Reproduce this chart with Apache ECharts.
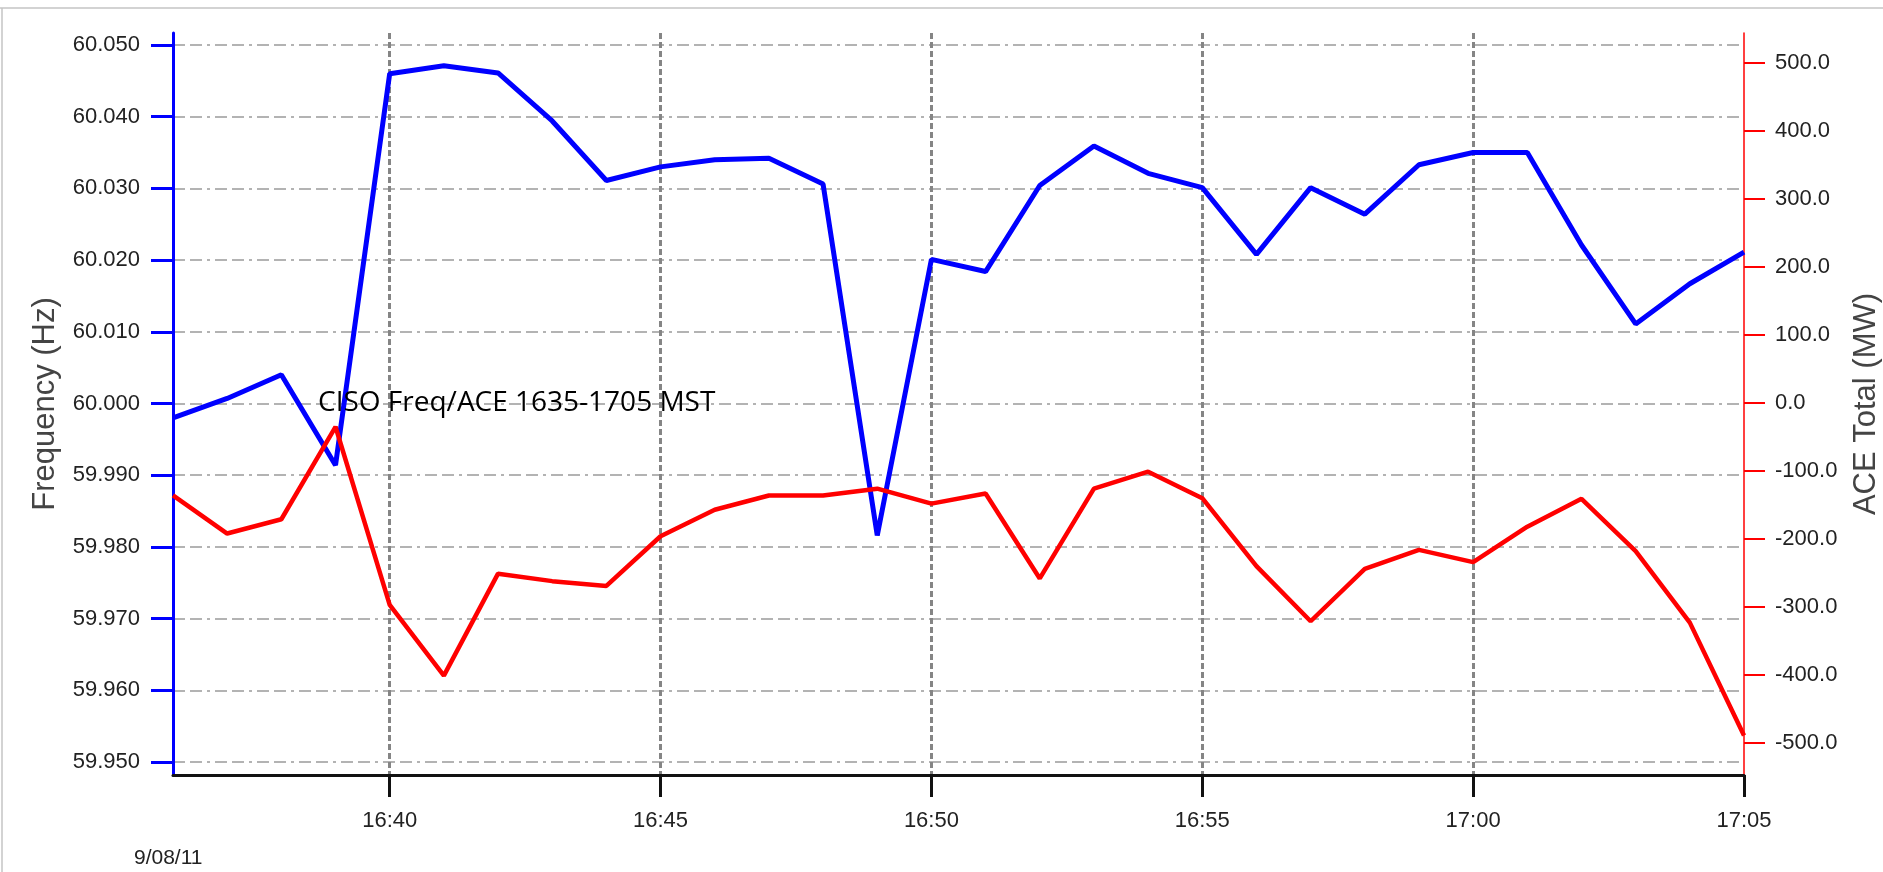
<!DOCTYPE html>
<html>
<head>
<meta charset="utf-8">
<script src="https://cdn.jsdelivr.net/npm/echarts@6.0.0/dist/echarts.min.js"></script>
<style>
html,body{margin:0;padding:0;background:#fff;}
#chart{width:1883px;height:872px;}
</style>
</head>
<body>
<div id="chart"></div>
<script>
// Categories (one point per minute, 9/08/11)
var times = ['16:36','16:37','16:38','16:39','16:40','16:41','16:42','16:43','16:44','16:45',
             '16:46','16:47','16:48','16:49','16:50','16:51','16:52','16:53','16:54','16:55',
             '16:56','16:57','16:58','16:59','17:00','17:01','17:02','17:03','17:04','17:05'];
// Frequency (Hz)
var freq = [59.998, 60.0007, 60.004, 59.9914, 60.046, 60.0471, 60.0461, 60.0394, 60.0311, 60.033,
            60.034, 60.0342, 60.0306, 59.9816, 60.0201, 60.0184, 60.0304, 60.0359, 60.0321, 60.0301,
            60.0208, 60.0301, 60.0264, 60.0333, 60.035, 60.035, 60.0221, 60.0111, 60.0167, 60.0211];
// ACE Total (MW)
var ace = [-136, -192, -171, -35, -297, -401, -251, -262, -269, -196,
           -157, -136, -136, -126, -148, -133, -258, -126, -101, -140,
           -240, -321, -244, -216, -234, -182, -141, -218, -323, -489];
// Tick labels
var freqTicks = [59.95, 59.96, 59.97, 59.98, 59.99, 60.00, 60.01, 60.02, 60.03, 60.04, 60.05];
var aceTicks = [-500, -400, -300, -200, -100, 0, 100, 200, 300, 400, 500];
var xTickLabels = ['16:40','16:45','16:50','16:55','17:00','17:05'];
var dateLabel = '9/08/11';
var titleText = 'CISO Freq/ACE 1635-1705 MST';

var chart = echarts.init(document.getElementById('chart'), null, {renderer: 'canvas'});
var tickFont = {fontFamily: 'Liberation Sans', fontSize: 22, color: '#222'};
function isMajor(idx) { return xTickLabels.indexOf(times[idx]) >= 0; }

chart.setOption({
  animation: false,
  backgroundColor: '#fff',
  grid: {left: 173, right: 139, top: 33, bottom: 97, containLabel: false, outerBoundsMode: 'none'},
  xAxis: {
    type: 'category',
    data: times,
    boundaryGap: false,
    axisLine: {onZero: false, lineStyle: {color: '#111', width: 3}},
    axisTick: {show: true, length: 22, lineStyle: {color: '#111', width: 3},
               interval: function (idx) { return isMajor(idx); }},
    axisLabel: Object.assign({margin: 35,
               interval: function (idx) { return isMajor(idx); }}, tickFont),
    splitLine: {show: true, interval: function (idx) { return isMajor(idx) && idx < times.length - 1; },
                lineStyle: {color: '#858585', width: 3, type: [6, 3]}}
  },
  yAxis: [{
    type: 'value',
    min: 59.94819, max: 60.05167,
    position: 'left',
    name: 'Frequency (Hz)',
    nameLocation: 'middle',
    nameGap: 112,
    nameRotate: 90,
    nameTextStyle: {fontFamily: 'Liberation Sans', fontSize: 31, color: '#444'},
    axisLine: {show: true, onZero: false, lineStyle: {color: '#0000ff', width: 3}},
    axisTick: {show: true, length: 22, customValues: freqTicks, lineStyle: {color: '#0000ff', width: 3}},
    axisLabel: Object.assign({margin: 33, customValues: freqTicks,
               formatter: function (v) { return v.toFixed(3); }}, tickFont),
    splitLine: {show: true, lineStyle: {color: '#9a9a9a', width: 1.5, type: [12, 5, 12, 5, 3, 5]}}
  }, {
    type: 'value',
    min: -547.1, max: 544.1,
    position: 'right',
    name: 'ACE Total (MW)',
    nameLocation: 'middle',
    nameGap: 107,
    nameRotate: 90,
    nameTextStyle: {fontFamily: 'Liberation Sans', fontSize: 31, color: '#444'},
    axisLine: {show: true, onZero: false, lineStyle: {color: '#ff0000', width: 1.5}},
    axisTick: {show: true, length: 21, customValues: aceTicks, lineStyle: {color: '#ff0000', width: 2}},
    axisLabel: Object.assign({margin: 31, customValues: aceTicks,
               formatter: function (v) { return v.toFixed(1); }}, tickFont),
    splitLine: {show: false}
  }],
  graphic: [
    {type: 'line', shape: {x1: 0, y1: 8, x2: 1883, y2: 8}, style: {stroke: '#c4c4c4', lineWidth: 1.5}, silent: true},
    {type: 'line', shape: {x1: 2, y1: 8, x2: 2, y2: 872}, style: {stroke: '#c4c4c4', lineWidth: 1.5}, silent: true},
    {type: 'text', x: 134, y: 858, style: {text: dateLabel, font: '21px "Liberation Sans"', fill: '#222', verticalAlign: 'middle'}},
    {type: 'text', x: 318, y: 403, z: 100, style: {text: titleText, font: '28px "Open Sans"', fill: '#000', verticalAlign: 'middle'}}
  ],
  series: [{
    name: 'Frequency',
    type: 'line',
    yAxisIndex: 0,
    data: freq,
    symbol: 'none',
    lineStyle: {color: '#0000ff', width: 5},
    itemStyle: {color: '#0000ff'},
    z: 3
  }, {
    name: 'ACE',
    type: 'line',
    yAxisIndex: 1,
    data: ace,
    symbol: 'none',
    lineStyle: {color: '#ff0000', width: 4.5},
    itemStyle: {color: '#ff0000'},
    z: 4
  }]
});
</script>
</body>
</html>
